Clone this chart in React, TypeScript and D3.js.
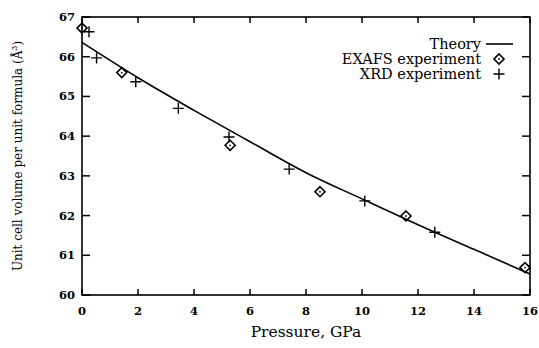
import React from "react";
import * as d3 from "d3";

const W = 539;
const H = 348;

// Theory curve (pressure GPa, volume Å^3)
const theoryP = [0, 2, 4, 6, 8, 10, 12, 14, 16];
const theoryV = [66.36, 65.47, 64.65, 63.86, 63.08, 62.42, 61.77, 61.15, 60.53];

// EXAFS experiment
const exafsP = [0.0, 1.42, 5.29, 8.5, 11.57, 15.82];
const exafsV = [66.72, 65.6, 63.77, 62.6, 61.99, 60.69];

// XRD experiment
const xrdP = [0.25, 0.52, 1.92, 3.44, 5.25, 7.4, 10.1, 12.6];
const xrdV = [66.63, 65.97, 65.37, 64.7, 63.98, 63.17, 62.37, 61.58];

const xTicks = [0, 2, 4, 6, 8, 10, 12, 14, 16];
const yTicks = [60, 61, 62, 63, 64, 65, 66, 67];

const FONT = "'DejaVu Serif', serif";

export default function App() {
  const left = 82, right = 530, top = 17, bottom = 295;
  const x = d3.scaleLinear().domain([0, 16]).range([left, right]);
  const y = d3.scaleLinear().domain([60, 67]).range([bottom, top]);

  const line = d3
    .line<number>()
    .x((_, i) => x(theoryP[i]))
    .y((v) => y(v))
    .curve(d3.curveMonotoneX);

  const tickLen = 6;

  const diamond = (cx: number, cy: number, key: string | number) => (
    <g key={key}>
      <path
        d={`M${cx},${cy - 5}L${cx + 5},${cy}L${cx},${cy + 5}L${cx - 5},${cy}Z`}
        fill="none"
        stroke="#000"
        strokeWidth={1.6}
      />
      <circle cx={cx} cy={cy} r={0.9} fill="#000" />
    </g>
  );
  const plus = (cx: number, cy: number, key: string | number) => (
    <path
      key={key}
      d={`M${cx - 5.5},${cy}H${cx + 5.5}M${cx},${cy - 5.5}V${cy + 5.5}`}
      stroke="#000"
      strokeWidth={1.4}
    />
  );

  return (
    <svg
      width={W}
      height={H}
      style={{ position: "absolute", left: 0, top: 0, background: "#fff" }}
    >
      <rect x={0} y={0} width={W} height={H} fill="#fff" />
      {/* ticks */}
      {xTicks.map((t) => (
        <g key={"xt" + t}>
          <line x1={x(t)} x2={x(t)} y1={bottom} y2={bottom - tickLen} stroke="#000" strokeWidth={1.5} />
          <line x1={x(t)} x2={x(t)} y1={top} y2={top + tickLen} stroke="#000" strokeWidth={1.5} />
          <text
            x={x(t)}
            y={311}
            textAnchor="middle"
            dominantBaseline="central"
            fontFamily={FONT}
            fontSize={11.5}
            fontWeight="bold"
          >
            {t}
          </text>
        </g>
      ))}
      {yTicks.map((t) => (
        <g key={"yt" + t}>
          <line x1={left} x2={left + tickLen + 2} y1={y(t)} y2={y(t)} stroke="#000" strokeWidth={1.5} />
          <line x1={right} x2={right - tickLen - 2} y1={y(t)} y2={y(t)} stroke="#000" strokeWidth={1.5} />
          <text
            x={75}
            y={y(t)}
            textAnchor="end"
            dominantBaseline="central"
            fontFamily={FONT}
            fontSize={11.5}
            fontWeight="bold"
          >
            {t}
          </text>
        </g>
      ))}
      {/* frame */}
      <rect
        x={left}
        y={top}
        width={right - left}
        height={bottom - top}
        fill="none"
        stroke="#000"
        strokeWidth={1.6}
      />
      {/* theory */}
      <path d={line(theoryV) || ""} fill="none" stroke="#000" strokeWidth={1.6} />
      {exafsP.map((p, i) => diamond(x(p), y(exafsV[i]), "e" + i))}
      {xrdP.map((p, i) => plus(x(p), y(xrdV[i]), "x" + i))}

      {/* legend */}
      <g fontFamily={FONT} fontSize={14.5}>
        <text x={481} y={44} textAnchor="end" dominantBaseline="central">Theory</text>
        <line x1={486} x2={513} y1={44} y2={44} stroke="#000" strokeWidth={1.6} />
        <text x={481} y={59} textAnchor="end" dominantBaseline="central">EXAFS experiment</text>
        {diamond(499, 59, "ld")}
        <text x={481} y={74} textAnchor="end" dominantBaseline="central">XRD experiment</text>
        {plus(499, 74, "lp")}
      </g>

      {/* axis titles */}
      <text
        x={(left + right) / 2}
        y={332}
        textAnchor="middle"
        dominantBaseline="central"
        fontFamily={FONT}
        fontSize={15.5}
      >
        Pressure, GPa
      </text>
      <text
        transform={`translate(18,${(top + bottom) / 2}) rotate(-90)`}
        textAnchor="middle"
        dominantBaseline="central"
        fontFamily={FONT}
        fontSize={12}
      >
        Unit cell volume per unit formula (Å<tspan dy={-4} fontSize={8}>3</tspan><tspan dy={4}>)</tspan>
      </text>
    </svg>
  );
}
